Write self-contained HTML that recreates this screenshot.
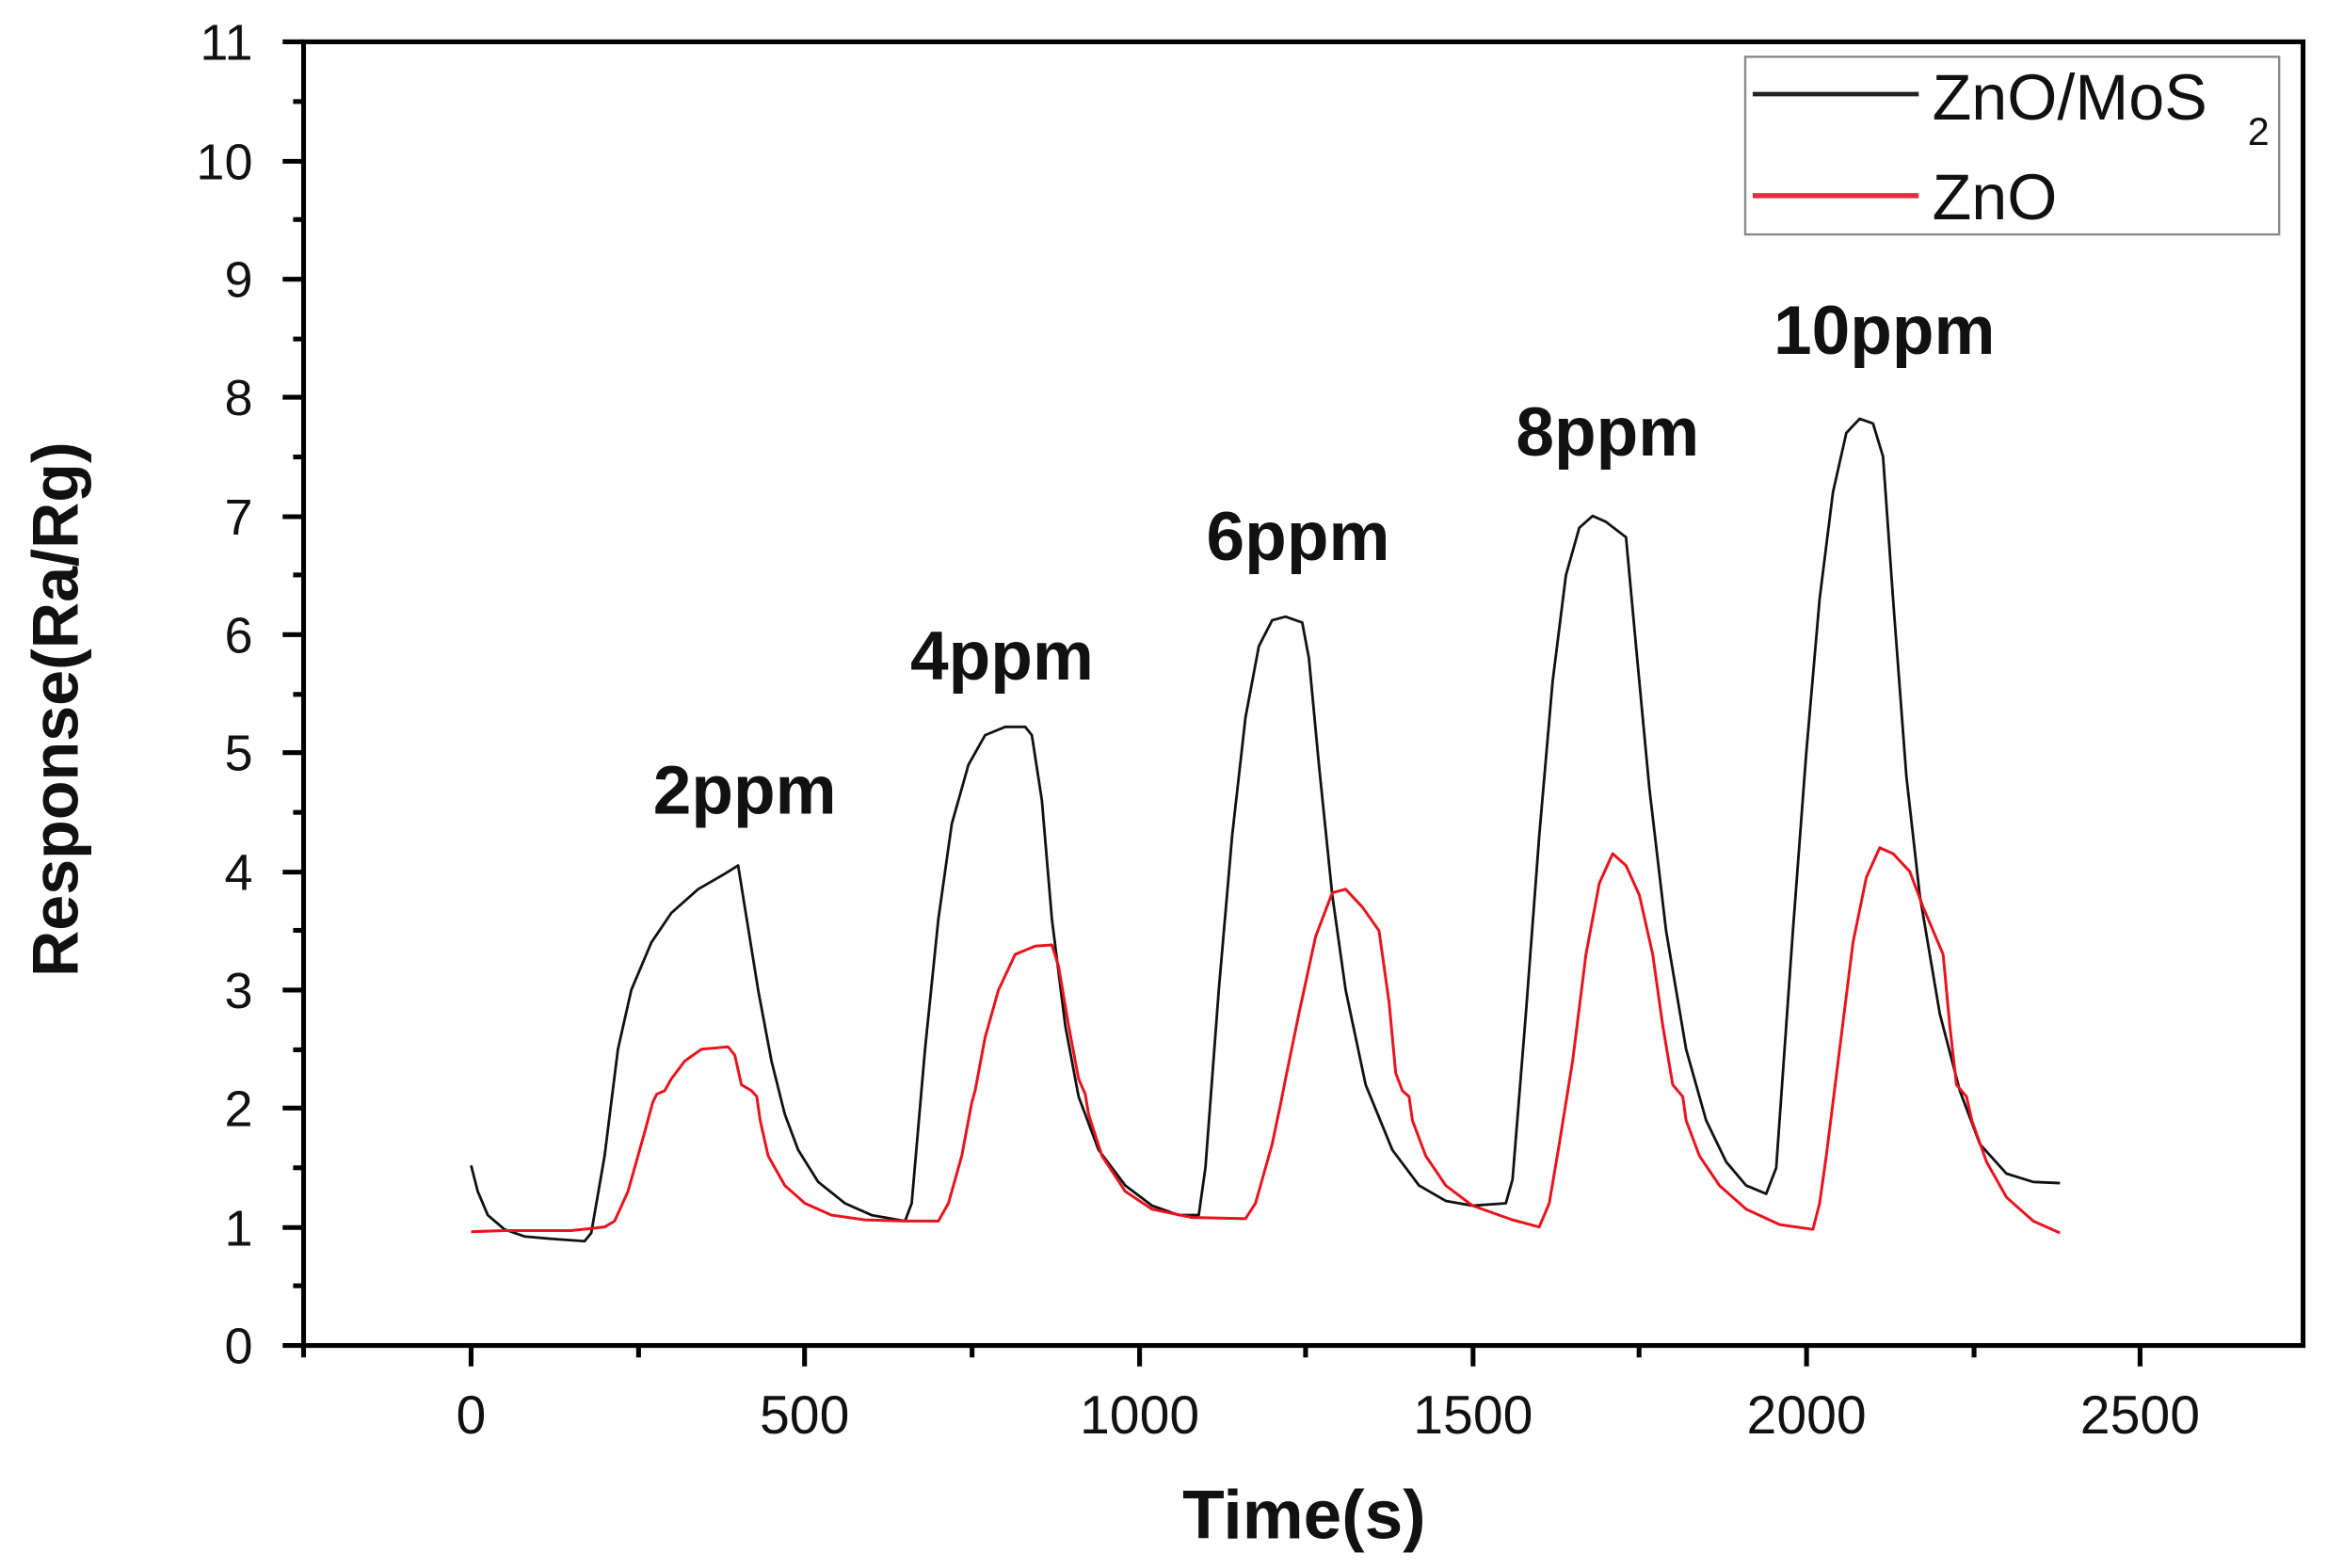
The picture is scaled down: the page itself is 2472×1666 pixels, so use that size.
<!DOCTYPE html>
<html><head><meta charset="utf-8"><style>
html,body{margin:0;padding:0;background:#fff;}
svg{display:block;}
text{font-family:"Liberation Sans",Arial,sans-serif;fill:#111;}
</style></head><body>
<svg width="2472" height="1666" viewBox="0 0 1556 1050" preserveAspectRatio="none" xmlns="http://www.w3.org/2000/svg">
<rect width="1556" height="1050" fill="#fff"/>
<rect x="203" y="28" width="1337" height="873" fill="none" stroke="#000" stroke-width="3.2"/>
<g stroke="#000" stroke-width="3.2">
<line x1="189" y1="901" x2="203" y2="901"/><line x1="189" y1="822" x2="203" y2="822"/><line x1="189" y1="742" x2="203" y2="742"/><line x1="189" y1="663" x2="203" y2="663"/><line x1="189" y1="584" x2="203" y2="584"/><line x1="189" y1="504" x2="203" y2="504"/><line x1="189" y1="425" x2="203" y2="425"/><line x1="189" y1="346" x2="203" y2="346"/><line x1="189" y1="266" x2="203" y2="266"/><line x1="189" y1="187" x2="203" y2="187"/><line x1="189" y1="108" x2="203" y2="108"/><line x1="189" y1="28" x2="203" y2="28"/>
<line x1="196" y1="861" x2="203" y2="861"/><line x1="196" y1="782" x2="203" y2="782"/><line x1="196" y1="703" x2="203" y2="703"/><line x1="196" y1="623" x2="203" y2="623"/><line x1="196" y1="544" x2="203" y2="544"/><line x1="196" y1="465" x2="203" y2="465"/><line x1="196" y1="385" x2="203" y2="385"/><line x1="196" y1="306" x2="203" y2="306"/><line x1="196" y1="227" x2="203" y2="227"/><line x1="196" y1="147" x2="203" y2="147"/><line x1="196" y1="68" x2="203" y2="68"/>
<line x1="315" y1="901" x2="315" y2="915"/><line x1="538" y1="901" x2="538" y2="915"/><line x1="762" y1="901" x2="762" y2="915"/><line x1="985" y1="901" x2="985" y2="915"/><line x1="1208" y1="901" x2="1208" y2="915"/><line x1="1431" y1="901" x2="1431" y2="915"/>
<line x1="203" y1="901" x2="203" y2="909"/><line x1="427" y1="901" x2="427" y2="909"/><line x1="650" y1="901" x2="650" y2="909"/><line x1="873" y1="901" x2="873" y2="909"/><line x1="1096" y1="901" x2="1096" y2="909"/><line x1="1320" y1="901" x2="1320" y2="909"/>
</g>
<g font-size="34" text-anchor="end">
<text x="169" y="913">0</text><text x="169" y="834">1</text><text x="169" y="754">2</text><text x="169" y="675">3</text><text x="169" y="596">4</text><text x="169" y="516">5</text><text x="169" y="437">6</text><text x="169" y="358">7</text><text x="169" y="278">8</text><text x="169" y="199">9</text><text x="169" y="120">10</text><text x="169" y="40">11</text>
</g>
<g font-size="36" text-anchor="middle">
<text x="315" y="960">0</text><text x="538" y="960">500</text><text x="762" y="960">1000</text><text x="985" y="960">1500</text><text x="1208" y="960">2000</text><text x="1431" y="960">2500</text>
</g>
<text x="872" y="1030" font-size="46" font-weight="bold" text-anchor="middle">Time(s)</text>
<text transform="translate(52,475) rotate(-90)" font-size="43" font-weight="bold" text-anchor="middle">Response(Ra/Rg)</text>
<g font-size="46" font-weight="bold" text-anchor="middle">
<text x="498" y="545">2ppm</text><text x="670" y="455">4ppm</text><text x="868" y="375">6ppm</text><text x="1075" y="305">8ppm</text><text x="1260" y="237">10ppm</text>
</g>
<rect x="1167" y="38" width="357" height="119" fill="#fff" stroke="#888" stroke-width="1.5"/>
<line x1="1172" y1="63" x2="1283" y2="63" stroke="#222" stroke-width="3"/>
<line x1="1172" y1="131" x2="1283" y2="131" stroke="#e03040" stroke-width="3.5"/>
<text x="1292" y="80" font-size="43">ZnO/MoS</text><text x="1503" y="97" font-size="26">2</text>
<text x="1292" y="147" font-size="43">ZnO</text>
<g transform="translate(315,901) scale(0.4464,-79.36)">
<polyline fill="none" stroke="#111" stroke-width="2.8" stroke-linejoin="round" vector-effect="non-scaling-stroke" points="0,1.52 10,1.3 25,1.1 50,0.98 80,0.92 120,0.9 170,0.88 180,0.95 200,1.6 220,2.5 240,3.0 270,3.4 300,3.65 340,3.85 380,3.98 400,4.05 410,3.7 430,3.0 450,2.4 470,1.95 490,1.65 520,1.38 560,1.2 600,1.1 650,1.05 660,1.2 680,2.5 700,3.6 720,4.4 745,4.9 770,5.15 800,5.22 830,5.22 840,5.15 855,4.6 870,3.6 890,2.7 910,2.1 940,1.65 980,1.35 1020,1.18 1060,1.1 1090,1.1 1100,1.5 1120,3.0 1140,4.3 1160,5.3 1180,5.9 1200,6.12 1220,6.15 1245,6.1 1255,5.8 1270,4.9 1290,3.8 1310,3.0 1340,2.2 1380,1.65 1420,1.35 1460,1.22 1500,1.18 1550,1.2 1560,1.4 1580,2.8 1600,4.3 1620,5.6 1640,6.5 1660,6.9 1680,7.0 1700,6.95 1730,6.82 1745,5.9 1765,4.7 1790,3.5 1820,2.5 1850,1.9 1880,1.55 1910,1.35 1940,1.28 1955,1.5 1980,3.5 2000,5.0 2020,6.3 2040,7.2 2060,7.7 2080,7.82 2100,7.78 2115,7.5 2130,6.3 2150,4.8 2170,3.8 2200,2.8 2230,2.15 2260,1.7 2300,1.45 2340,1.38 2380,1.37"/>
<polyline fill="none" stroke="#e8141e" stroke-width="3" stroke-linejoin="round" vector-effect="non-scaling-stroke" points="0,0.96 50,0.97 100,0.97 150,0.97 200,1.0 215,1.05 235,1.3 260,1.8 272,2.05 278,2.12 290,2.15 300,2.25 320,2.4 345,2.5 385,2.52 395,2.45 405,2.2 420,2.15 428,2.1 433,1.9 445,1.6 470,1.35 500,1.2 540,1.1 590,1.06 650,1.05 700,1.05 715,1.2 735,1.6 750,2.05 755,2.15 770,2.6 790,3.0 815,3.3 845,3.37 870,3.38 880,3.2 895,2.7 910,2.25 920,2.12 925,1.95 945,1.6 980,1.3 1020,1.15 1080,1.08 1160,1.07 1175,1.2 1200,1.7 1213,2.05 1220,2.25 1240,2.8 1265,3.45 1290,3.82 1310,3.85 1335,3.7 1360,3.5 1375,2.9 1385,2.3 1395,2.15 1405,2.1 1410,1.9 1430,1.6 1460,1.35 1500,1.18 1560,1.06 1600,1.0 1615,1.2 1630,1.7 1640,2.05 1650,2.4 1670,3.3 1690,3.9 1710,4.15 1730,4.05 1750,3.8 1770,3.3 1785,2.7 1800,2.2 1815,2.1 1820,1.9 1840,1.6 1870,1.35 1910,1.15 1960,1.02 2010,0.98 2020,1.2 2030,1.6 2040,2.05 2050,2.5 2070,3.4 2090,3.95 2110,4.2 2130,4.15 2155,4.0 2175,3.7 2190,3.5 2205,3.3 2215,2.7 2225,2.2 2240,2.1 2248,1.9 2270,1.55 2300,1.25 2340,1.05 2380,0.95"/>
</g>
</svg>
</body></html>
